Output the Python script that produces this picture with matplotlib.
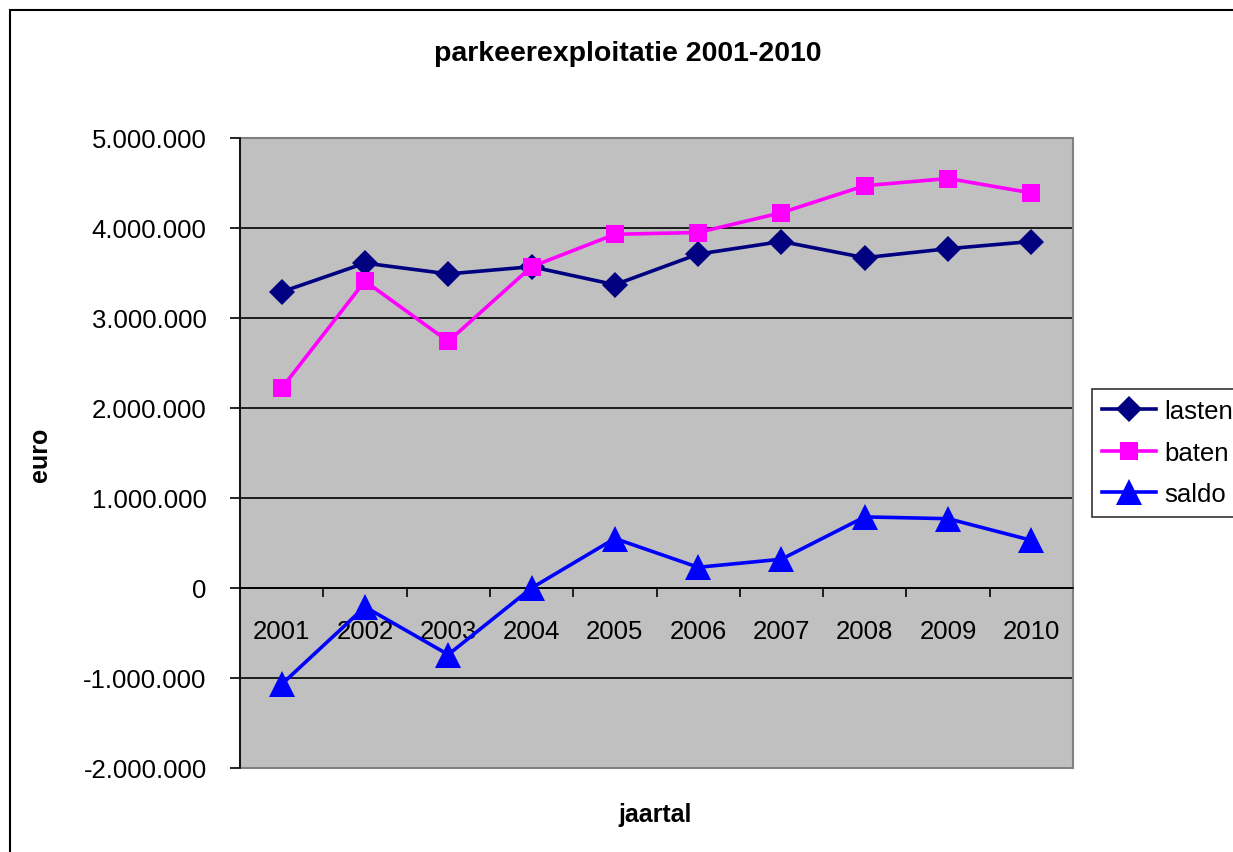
import numpy as np
import matplotlib
matplotlib.use("Agg")
import matplotlib.pyplot as plt
from matplotlib.patches import Rectangle
from matplotlib.ticker import FuncFormatter, FixedLocator

plt.rcParams['font.family'] = ['Liberation Sans', 'DejaVu Sans']

# data (euro)
jaren = ['2001', '2002', '2003', '2004', '2005', '2006', '2007', '2008', '2009', '2010']
lasten = [3.29e6, 3.61e6, 3.49e6, 3.57e6, 3.37e6, 3.71e6, 3.85e6, 3.67e6, 3.77e6, 3.85e6]
baten = [2.22e6, 3.41e6, 2.74e6, 3.57e6, 3.93e6, 3.95e6, 4.17e6, 4.47e6, 4.55e6, 4.39e6]
saldo = [-1.07e6, -0.21e6, -0.74e6, 0.0, 0.55e6, 0.23e6, 0.32e6, 0.79e6, 0.77e6, 0.53e6]

W, H = 1233, 853
fig = plt.figure(figsize=(W / 100, H / 100), dpi=100)
fig.patch.set_facecolor('white')

# outer chart frame (right/bottom edges fall outside the image)
fig.patches.append(Rectangle((10 / W, -0.1), 1.2, 1.1 - 11 / H, transform=fig.transFigure,
                             fill=False, edgecolor='black', linewidth=1.5))

ax = fig.add_axes([240 / W, 1 - 769 / H, (1073 - 240) / W, (769 - 139) / H])
ax.set_facecolor('#C0C0C0')

x = np.arange(len(jaren))
ax.plot(x, lasten, color='#000080', lw=2.6, marker='D', ms=13, mew=0, label='lasten', zorder=3)
ax.plot(x, baten, color='#FF00FF', lw=2.6, marker='s', ms=12.5, mew=0, label='baten', zorder=3)
ax.plot(x, saldo, color='#0000FF', lw=2.6, marker='^', ms=19, mew=0, label='saldo', zorder=3)

ax.set_xlim(-0.5, len(jaren) - 0.5)
ax.set_ylim(-2e6, 5e6)
ax.set_yticks(np.arange(-2e6, 5.1e6, 1e6))
ax.yaxis.set_major_formatter(FuncFormatter(lambda v, p: f"{int(round(v)):,}".replace(',', '.')))
ax.grid(axis='y', color='black', lw=1.2)
ax.set_axisbelow(True)

# plot area border
ax.add_patch(Rectangle((0, 0), 1, 1, transform=ax.transAxes, fill=False,
                       edgecolor='#808080', lw=1.5, clip_on=False, zorder=1))
for s in ['top', 'right']:
    ax.spines[s].set_visible(False)
ax.spines['left'].set_color('black')
ax.spines['left'].set_linewidth(1.2)
ax.spines['bottom'].set_position(('data', 0))
ax.spines['bottom'].set_color('black')
ax.spines['bottom'].set_linewidth(1.2)

ax.set_xticks(x)
ax.set_xticklabels(jaren)
ax.xaxis.set_minor_locator(FixedLocator(np.arange(-0.5, len(jaren), 1.0)))
ax.tick_params(axis='x', which='major', length=0, pad=22, labelsize=18.5)
ax.tick_params(axis='x', which='minor', direction='out', length=6.5, width=1.2, color='black')
ax.tick_params(axis='y', direction='out', length=7, width=1.2, pad=17, labelsize=18.5)

fig.text(628 / W, 1 - 54 / H, 'parkeerexploitatie 2001-2010', ha='center', va='center',
         fontsize=20.5, fontweight='bold')
fig.text(655 / W, 1 - 815 / H, 'jaartal', ha='center', va='center', fontsize=18, fontweight='bold')
fig.text(40 / W, 1 - 455 / H, 'euro', ha='center', va='center', rotation=90,
         fontsize=18, fontweight='bold')

leg = fig.legend(loc='upper left', bbox_to_anchor=(1092 / W, 1 - 390 / H), fontsize=18.5,
                 frameon=True, fancybox=False, borderaxespad=0, handlelength=2.1,
                 handletextpad=0.3, borderpad=0.4, labelspacing=0.68)
leg.get_frame().set_edgecolor('black')
leg.get_frame().set_linewidth(1.2)

fig.savefig('out.png', dpi=100)
